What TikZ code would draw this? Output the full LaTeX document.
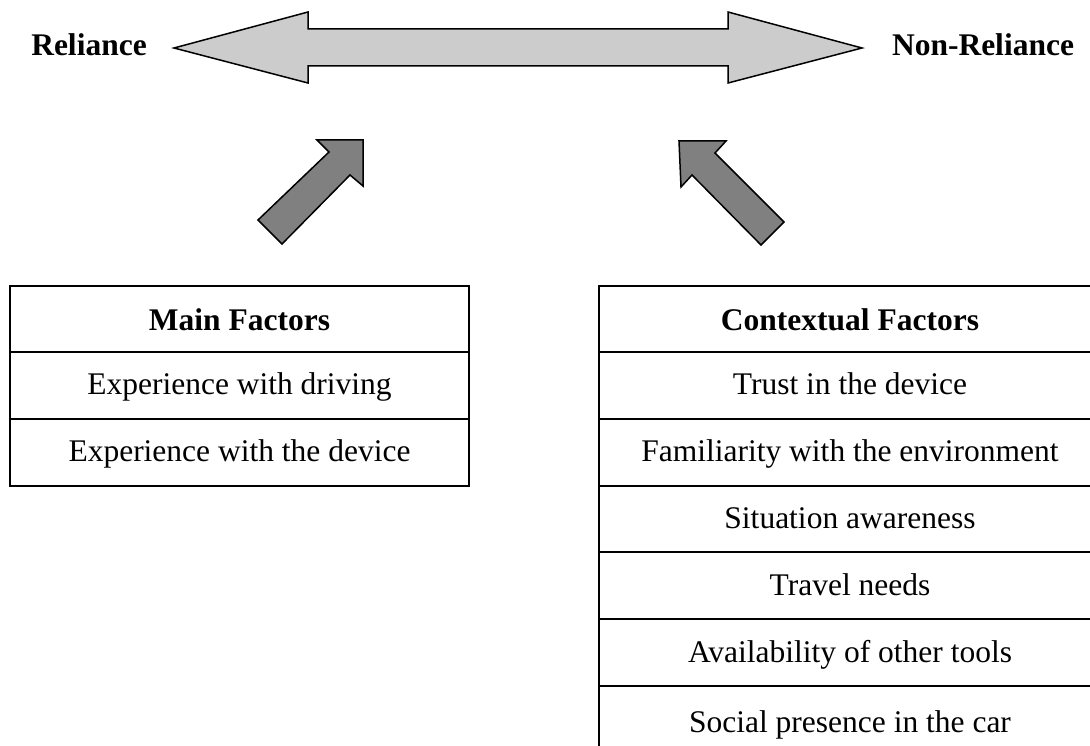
\documentclass[tikz,border=0pt]{standalone}
\usepackage{fontspec}
\setmainfont{Liberation Serif}
\begin{document}
\begin{tikzpicture}[x=1pt,y=-1pt,line join=miter,
  txt/.style={font=\fontsize{31.5}{38}\selectfont, anchor=base, inner sep=0pt},
  hdr/.style={font=\fontsize{31.5}{38}\selectfont\bfseries, anchor=base, inner sep=0pt},
  gridline/.style={line width=2pt},
  bigarrow/.style={draw, line width=1.5pt, fill=gray!40},
  tiltarrow/.style={draw, line width=1.5pt, fill=gray}]
\useasboundingbox (0,0) rectangle (1090,746);

% double arrow
\draw[bigarrow] (174,48) -- (308,12) -- (308,29) -- (728,29) -- (728,12) -- (862,48)
  -- (728,83) -- (728,66) -- (308,66) -- (308,83) -- cycle;
\node[hdr] (rel) at (89,56) {Reliance};
\node[hdr] (nonrel) at (983,56) {Non-Reliance};

% tilted arrows
\draw[tiltarrow] (363,140) -- (317,140) -- (329,152) -- (258,220) -- (282,244)
  -- (350,175) -- (363,186) -- cycle;
\draw[tiltarrow] (679,141) -- (726,141) -- (715,153) -- (784,222) -- (761,245)
  -- (692,175) -- (681,187) -- cycle;

% left table
\draw[gridline] (10,286) rectangle (469,486);
\draw[gridline] (10,352) -- (469,352);
\draw[gridline] (10,419) -- (469,419);
\node[hdr] (mainf) at (239.5,330) {Main Factors};
\node[txt] (m1) at (239.5,394) {Experience with driving};
\node[txt] (m2) at (239.5,461) {Experience with the device};

% right table
\draw[gridline] (1090,286) -- (599,286) -- (599,746);
\foreach \yy in {352,419,486,552,619,686}
  \draw[gridline] (599,\yy) -- (1090,\yy);
\node[hdr] (ctx) at (850,330) {Contextual Factors};
\node[txt] (c1) at (850,394) {Trust in the device};
\node[txt] (c2) at (850,461) {Familiarity with the environment};
\node[txt] (c3) at (850,528) {Situation awareness};
\node[txt] (c4) at (850,595) {Travel needs};
\node[txt] (c5) at (850,662) {Availability of other tools};
\node[txt] (c6) at (850,732) {Social presence in the car};
\end{tikzpicture}
\end{document}
